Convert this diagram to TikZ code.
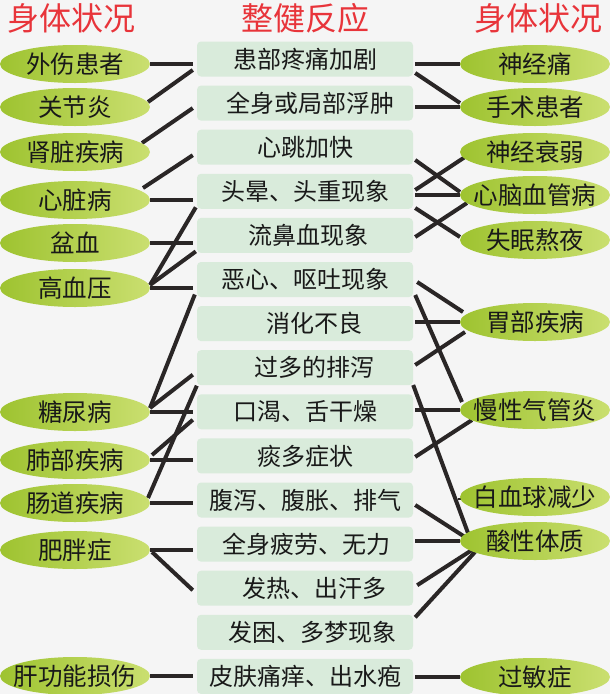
\documentclass[tikz,border=0pt]{standalone}
\usepackage{fontspec}
\setmainfont{Noto Sans CJK SC}
\usetikzlibrary{calc,shapes.geometric}
\pgfdeclarelayer{back}\pgfdeclarelayer{lines}
\pgfsetlayers{back,lines,main}
\definecolor{bgc}{RGB}{245,245,245}
\definecolor{boxc}{RGB}{217,235,219}
\definecolor{gL}{RGB}{158,195,48}
\definecolor{gR}{RGB}{202,223,112}
\definecolor{lnc}{RGB}{42,38,38}
\definecolor{ttl}{RGB}{232,52,58}
\newcommand\mkz[1]{\makebox[0pt][c]{#1}}
\tikzset{
 react/.style={fill=boxc, rounded corners=4pt, minimum width=216pt, minimum height=35pt, inner sep=0pt, font=\fontsize{24}{24}\selectfont, text=black!90},
 cond/.style={ellipse, left color=gL, right color=gR, minimum width=150pt, minimum height=38pt, inner sep=0pt, font=\fontsize{24.5}{24.5}\selectfont, text=black!90},
 ttlstyle/.style={text=ttl, font=\fontsize{32}{32}\selectfont, inner sep=0pt},
 conn/.style={draw=lnc, line width=4pt},
 hl/.style={conn, shorten >=4pt},
 hr/.style={conn, shorten <=2pt},
}
\begin{document}
\begin{tikzpicture}[x=1pt,y=-1pt]
\useasboundingbox (0,0) rectangle (610,694);
\begin{pgfonlayer}{back}
\fill[bgc] (0,0) rectangle (610,694);
\end{pgfonlayer}
% titles
\node[ttlstyle] (t1) at (72,18) {身体状况};
\node[ttlstyle] (t2) at (305,18) {整健反应};
\node[ttlstyle] (t3) at (538,18) {身体状况};
% reaction boxes
\node[react] (b1) at (305,59) {患部疼痛加剧};
\node[react] (b2) at (305,103.1) {\hspace{10pt}全身或局部浮肿};
\node[react] (b3) at (305,147.2) {心跳加快};
\node[react] (b4) at (305,191.3) {头晕、头重现象};
\node[react] (b5) at (305,235.4) {\hspace{6pt}流鼻血现象};
\node[react] (b6) at (305,279.5) {恶心、呕吐现象};
\node[react] (b7) at (305,323.6) {\hspace{18pt}消化不良};
\node[react] (b8) at (305,367.7) {\hspace{18pt}过多的排泻};
\node[react] (b9) at (305,411.8) {口渴、舌干燥};
\node[react] (b10) at (305,455.9) {痰多症状};
\node[react] (b11) at (305,500) {腹泻、腹胀、排气};
\node[react] (b12) at (305,544.1) {\hspace{2pt}全身疲劳、无力};
\node[react] (b13) at (305,588.2) {\hspace{18pt}发热、出汗多};
\node[react] (b14) at (305,632.3) {\hspace{14pt}发困、多梦现象};
\node[react] (b15) at (305,676.4) {皮肤痛痒、出水疱};
% left conditions
\node[cond] (L1) at (75,64) {\mkz{外伤患者}};
\node[cond] (L2) at (75,107) {\mkz{关节炎}};
\node[cond] (L3) at (75,152) {\mkz{肾脏疾病}};
\node[cond] (L4) at (75,200) {\mkz{心脏病}};
\node[cond] (L5) at (75,243) {\mkz{盆血}};
\node[cond] (L6) at (75,288) {\mkz{高血压}};
\node[cond] (L7) at (75,412) {\mkz{糖尿病}};
\node[cond] (L8) at (75,460) {\mkz{肺部疾病}};
\node[cond] (L9) at (75,503) {\mkz{肠道疾病}};
\node[cond] (L10) at (75,550) {\mkz{肥胖症}};
\node[cond] (L11) at (75,676) {\mkz{肝功能损伤}};
% right conditions
\node[cond] (R1) at (535,64) {\mkz{神经痛}};
\node[cond] (R2) at (535,107) {\mkz{手术患者}};
\node[cond] (R3) at (535,152) {\mkz{神经衰弱}};
\node[cond] (R4) at (535,195) {\mkz{心脑血管病}};
\node[cond] (R5) at (535,240) {\mkz{失眠熬夜}};
\node[cond] (R6) at (535,322) {\mkz{胃部疾病}};
\node[cond] (R7) at (535,410) {\mkz{慢性气管炎}};
\node[cond] (R8) at (535,497) {\mkz{白血球减少}};
\node[cond] (R9) at (535,541) {\mkz{酸性体质}};
\node[cond] (R10) at (535,677) {\mkz{过敏症}};
\begin{pgfonlayer}{lines}
% left side
\draw[hl] (L1.east) -- (L1.east -| b1.west);
\draw[conn] ($(L2.center)+(73,-5)$) -- ($(b1.west)+(-4,11)$);
\draw[conn] ($(L3.center)+(67,-9)$) -- ($(b2.west)+(-4,5)$);
\draw[conn] ($(L4.center)+(68,-12)$) -- ($(b3.west)+(-4,8)$);
\draw[hl] (L4.east) -- (L4.east -| b4.west);
\draw[hl] (L5.east) -- (L5.east -| b5.west);
\draw[conn] ($(L6.center)+(75,-3)$) -- ($(b4.west)+(-1,16)$);
\draw[conn] ($(L6.center)+(75,-3)$) -- ($(b5.west)+(-1,16)$);
\draw[hl] (L6.east) -- (L6.east -| b6.west);
\draw[conn] ($(L7.center)+(75,-4)$) -- ($(b6.west)+(-2,15)$);
\draw[conn] ($(L7.center)+(75,-4)$) -- ($(b8.west)+(-4,7)$);
\draw[hl] (L7.east) -- (L7.east -| b9.west);
\draw[conn] ($(L9.center)+(73,-5)$) -- ($(b8.west)+(0,18)$);
\draw[conn] ($(L8.center)+(77,-5)$) -- ($(b9.west)+(-4,8)$);
\draw[hl] (L8.east) -- (L8.east -| b10.west);
\draw[hl] (L9.east) -- (L9.east -| b11.west);
\draw[hl] (L10.east) -- (L10.east -| b12.west);
\draw[conn] ($(L10.center)+(77,2)$) -- ($(b13.west)+(-4,2)$);
\draw[hl] (L11.east) -- (L11.east -| b15.west);
% right side
\draw[hr] (R1.west -| b1.east) -- (R1.west);
\draw[conn] ($(b1.east)+(2,14)$) -- ($(R2.center)+(-75,-4)$);
\draw[hr] (R2.west -| b2.east) -- (R2.west);
\draw[conn] ($(b3.east)+(2,12.8)$) -- ($(R4.center)+(-75,-3)$);
\draw[conn] ($(b4.east)+(2,-1.3)$) -- ($(R3.center)+(-70,5)$);
\draw[hr] (R4.west -| b4.east) -- (R4.west);
\draw[conn] ($(b4.east)+(2,16.7)$) -- ($(R5.center)+(-75,-3)$);
\draw[conn] ($(b5.east)+(2,1.6)$) -- ($(R4.center)+(-68,8)$);
\draw[conn] ($(b6.east)+(4,2.5)$) -- ($(R6.center)+(-72,-10)$);
\draw[conn] ($(b6.east)+(2,15.5)$) -- ($(R7.center)+(-73,-8)$);
\draw[hr] (R6.west -| b7.east) -- (R6.west);
\draw[conn] ($(b8.east)+(2,-2.7)$) -- ($(R6.center)+(-70,10)$);
\draw[conn] ($(b8.east)+(0,17.3)$) -- ($(R9.center)+(-67,-8)$);
\draw[hr] (R7.west -| b9.east) -- (R7.west);
\draw[conn] ($(b10.east)+(2,1)$) -- ($(R7.center)+(-63,10)$);
\draw[hr] ($(R8.west)+(0,3)$ -| b11.east) -- ($(R8.west)+(0,3)$);
\draw[conn] ($(b11.east)+(2,5)$) -- ($(R9.center)+(-70,-4)$);
\draw[hr] (R9.west -| b12.east) -- (R9.west);
\draw[conn] ($(b13.east)+(4,-3)$) -- ($(R9.center)+(-63,9)$);
\draw[conn] ($(b14.east)+(2,-15)$) -- ($(R9.center)+(-60,11)$);
\draw[hr] (R10.west -| b15.east) -- (R10.west);
\end{pgfonlayer}
\end{tikzpicture}
\end{document}
